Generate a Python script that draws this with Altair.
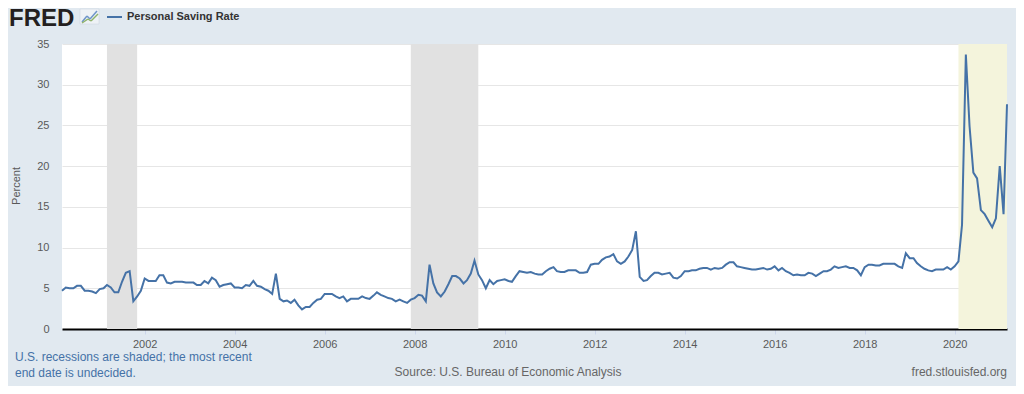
import altair as alt
import pandas as pd

# ---------------- data ----------------
start_year, start_month = 2000, 3
saving_rate = [
    # 2000 (Mar-Dec)
    4.7, 5.1, 5.0, 5.0, 5.3, 5.3, 4.7, 4.7, 4.6, 4.4,
    # 2001
    4.9, 5.0, 5.4, 5.1, 4.5, 4.5, 5.8, 6.9, 7.1, 3.4, 4.0, 4.7,
    # 2002
    6.2, 5.9, 5.9, 5.9, 6.6, 6.6, 5.7, 5.6, 5.8, 5.8, 5.8, 5.7,
    # 2003
    5.7, 5.7, 5.4, 5.4, 5.9, 5.6, 6.3, 6.0, 5.2, 5.4, 5.5, 5.6,
    # 2004
    5.1, 5.1, 5.0, 5.4, 5.3, 5.9, 5.3, 5.2, 4.9, 4.7, 4.3, 6.8,
    # 2005
    3.7, 3.4, 3.5, 3.2, 3.6, 2.9, 2.4, 2.7, 2.7, 3.2, 3.6, 3.7,
    # 2006
    4.3, 4.3, 4.3, 4.0, 3.8, 4.0, 3.4, 3.7, 3.7, 3.7, 4.0, 3.8,
    # 2007
    3.7, 4.1, 4.5, 4.2, 4.0, 3.8, 3.7, 3.4, 3.6, 3.4, 3.2, 3.6,
    # 2008
    3.8, 4.2, 4.1, 3.4, 7.9, 5.6, 4.5, 4.0, 4.6, 5.5, 6.5, 6.5,
    # 2009
    6.2, 5.6, 6.0, 6.8, 8.4, 6.7, 6.0, 5.0, 6.0, 5.5, 5.9, 6.0,
    # 2010
    6.1, 5.9, 5.8, 6.5, 7.1, 7.0, 6.9, 7.0, 6.8, 6.7, 6.7, 7.1,
    # 2011
    7.4, 7.6, 7.1, 7.0, 7.0, 7.2, 7.2, 7.2, 6.9, 6.9, 7.0, 7.9,
    # 2012
    8.0, 8.0, 8.5, 8.8, 8.9, 9.2, 8.3, 8.0, 8.3, 8.9, 9.7, 12.0,
    # 2013
    6.4, 5.9, 6.0, 6.5, 6.9, 6.9, 6.7, 6.8, 6.9, 6.3, 6.2, 6.5,
    # 2014
    7.1, 7.1, 7.2, 7.2, 7.4, 7.5, 7.5, 7.3, 7.5, 7.4, 7.5, 7.9,
    # 2015
    8.2, 8.2, 7.7, 7.6, 7.5, 7.4, 7.3, 7.3, 7.4, 7.5, 7.3, 7.4,
    # 2016
    7.7, 7.2, 7.5, 7.1, 6.9, 6.6, 6.7, 6.6, 6.6, 6.9, 6.8, 6.5,
    # 2017
    6.8, 7.1, 7.1, 7.3, 7.7, 7.5, 7.6, 7.7, 7.5, 7.5, 7.2, 6.6,
    # 2018
    7.6, 7.9, 7.9, 7.8, 7.8, 8.0, 8.0, 8.0, 8.0, 7.7, 7.5, 9.3,
    # 2019
    8.7, 8.7, 8.1, 7.7, 7.4, 7.2, 7.1, 7.3, 7.3, 7.3, 7.6, 7.3,
    # 2020
    7.7, 8.3, 12.8, 33.7, 24.9, 19.2, 18.5, 14.6, 14.1, 13.3, 12.5, 13.6,
    # 2021 (Jan-Mar)
    20.0, 14.1, 27.6,
]

recession_start = ["2001-03-01", "2007-12-01"]
recession_end = ["2001-11-01", "2009-06-01"]
open_recession_start = ["2020-02-01"]
open_recession_end = ["2021-03-01"]

year_ticks = [2002, 2004, 2006, 2008, 2010, 2012, 2014, 2016, 2018, 2020]
y_ticks = [0, 5, 10, 15, 20, 25, 30, 35]

# month labels for each value
dates = []
y, m = start_year, start_month
for _ in saving_rate:
    dates.append(f"{y:04d}-{m:02d}-01")
    m += 1
    if m > 12:
        m = 1
        y += 1

df = pd.DataFrame({"date": dates, "value": saving_rate})
rec = pd.DataFrame({"start": recession_start, "end": recession_end})
rec_open = pd.DataFrame({"start": open_recession_start, "end": open_recession_end})


def ms(s):
    return int(pd.Timestamp(s, tz="UTC").value // 10**6)


x_domain = [ms(dates[0]), ms(dates[-1])]
x_tick_values = [ms(f"{yr}-01-01") for yr in year_ticks]

# ---------------- style ----------------
BG = "#e1e9f0"
LINE = "#4572a7"
FONT = "Liberation Sans"
W, H = 945, 285

x_scale = alt.Scale(type="utc", domain=x_domain, nice=False)
y_scale = alt.Scale(domain=[0, 35], nice=False)

x_axis = alt.Axis(
    title=None, values=x_tick_values, labelExpr="utcFormat(datum.value, '%Y')",
    grid=False, domainColor="#000000", domainWidth=2, tickColor="#ccd6eb",
    tickSize=5, labelPadding=4, labelFontSize=11, labelColor="#595959",
    labelFont=FONT,
)
y_axis = alt.Axis(
    title=None, values=y_ticks, grid=True, gridColor="#e6e6e6", domain=False,
    ticks=False, labelPadding=13, labelFontSize=11, labelColor="#595959",
    labelFont=FONT,
)

shade = alt.Chart(rec).mark_rect(color="#e1e1e1").encode(
    x=alt.X("start:T", scale=x_scale, axis=x_axis), x2="end:T"
)
shade_open = alt.Chart(rec_open).mark_rect(color="#f4f4dc").encode(
    x=alt.X("start:T", scale=x_scale), x2="end:T"
)

line = alt.Chart(df).mark_line(color=LINE, strokeWidth=2).encode(
    x=alt.X("date:T", scale=x_scale, axis=x_axis),
    y=alt.Y("value:Q", scale=y_scale, axis=y_axis),
)


def label(text, x, y, baseline="middle", **kw):
    return alt.Chart(pd.DataFrame({"t": [text]})).mark_text(
        font=FONT, baseline=baseline, **kw
    ).encode(x=alt.value(x), y=alt.value(y), text="t:N")


def seg(x1, y1, x2, y2, color, width=1.5):
    return alt.Chart(pd.DataFrame({"t": [0]})).mark_rule(
        color=color, strokeWidth=width
    ).encode(x=alt.value(x1), y=alt.value(y1), x2=alt.value(x2), y2=alt.value(y2))


# header (relative to plot origin at page 62,44)
fred = label("FRED", -53, -18, baseline="alphabetic", fontSize=24,
             fontWeight="bold", color="#231f20", align="left")
icon_box = alt.Chart(pd.DataFrame({"t": [0]})).mark_rect(
    fill="#eef2f6", stroke="#c9d3dd", strokeWidth=0.5
).encode(x=alt.value(18), x2=alt.value(37), y=alt.value(-35), y2=alt.value(-20))
icon = [
    seg(20, -22, 25, -28, "#6f95c9"), seg(25, -28, 28, -25, "#6f95c9"), seg(28, -25, 35, -33, "#6f95c9"),
    seg(20, -21, 26, -25, "#8fb36a"), seg(26, -25, 29, -23, "#8fb36a"), seg(29, -23, 36, -30, "#8fb36a"),
]
legend_line = seg(45, -27, 60, -27, LINE, 2)
legend_text = label("Personal Saving Rate", 65, -27, fontSize=11, color="#333333",
                    align="left", fontWeight="bold")

y_title = label("Percent", -45, 142, fontSize=11, color="#595959", align="center", angle=270)

note1 = label("U.S. recessions are shaded; the most recent", -47, 313, fontSize=12,
              color="#4572a7", align="left")
note2 = label("end date is undecided.", -47, 329, fontSize=12, color="#4572a7", align="left")
source = label("Source: U.S. Bureau of Economic Analysis", 446, 328, fontSize=12,
               color="#666666", align="center")
site = label("fred.stlouisfed.org", 945, 328, fontSize=12, color="#666666", align="right")

chart = alt.layer(
    shade, shade_open, line,
    fred, icon_box, *icon, legend_line, legend_text, y_title,
    note1, note2, source, site,
).properties(
    width=W, height=H, background=BG,
    autosize=alt.AutoSizeParams(type="none"),
    padding={"left": 54, "top": 36, "right": 9, "bottom": 57},
).configure_view(strokeWidth=0, fill="white")

chart.save("out.html", embed_options={"renderer": "svg", "actions": False})
